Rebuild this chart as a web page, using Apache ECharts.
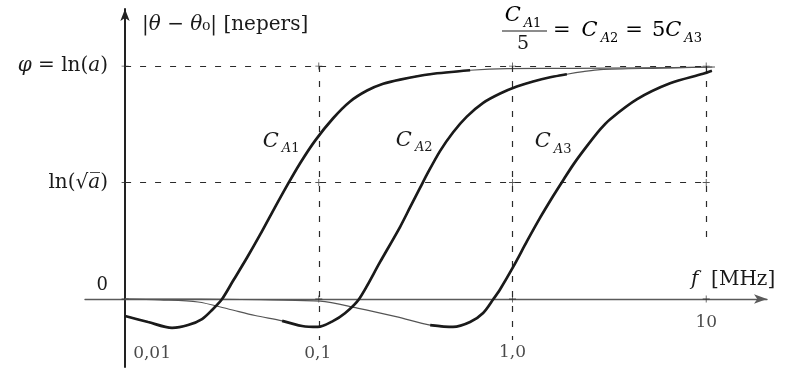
<!DOCTYPE html>
<html>
<head>
<meta charset="utf-8">
<title>|θ − θ0| versus frequency</title>
<script src="https://cdn.jsdelivr.net/npm/echarts@6/dist/echarts.min.js"></script>
<style>
  html, body { margin: 0; padding: 0; background: #fff; }
  #chart { width: 794px; height: 373px; }
</style>
</head>
<body>
<div id="chart"></div>
<script>
// Frequency in MHz; phase deviation |θ − θ0| in units of φ = ln(a)
const freqA1 = [0.01, 0.01315, 0.01748, 0.02115, 0.02497, 0.02813, 0.03168, 0.0361, 0.04265, 0.04978, 0.05741, 0.06946, 0.0801, 0.09574, 0.1186, 0.1451, 0.1776, 0.2149, 0.263, 0.3756, 0.6044, 0.94, 2.06, 4.56, 11.1];
const phaseA1 = [-0.073, -0.099, -0.124, -0.112, -0.086, -0.047, 0, 0.078, 0.178, 0.276, 0.371, 0.495, 0.583, 0.680, 0.776, 0.848, 0.895, 0.924, 0.942, 0.965, 0.982, 0.989, 0.990, 0.992, 0.996];

const freqA2 = [0.01, 0.0152, 0.0238, 0.0341, 0.0469, 0.0647, 0.082, 0.099, 0.117, 0.137, 0.1615, 0.2073, 0.263, 0.2962, 0.3337, 0.3613, 0.4232, 0.4939, 0.581, 0.7055, 0.8636, 1.053, 1.278, 1.565, 1.909, 2.317, 2.836, 5.785, 10.74];
const phaseA2 = [0, -0.004, -0.013, -0.043, -0.071, -0.094, -0.116, -0.120, -0.097, -0.060, 0, 0.159, 0.310, 0.394, 0.478, 0.534, 0.636, 0.716, 0.783, 0.842, 0.882, 0.912, 0.934, 0.952, 0.965, 0.976, 0.985, 0.991, 0.996];

const freqA3 = [0.01, 0.0244, 0.0561, 0.1016, 0.158, 0.254, 0.376, 0.493, 0.604, 0.7055, 0.7974, 0.8636, 1.0116, 1.1863, 1.389, 1.6275, 1.8334, 2.064, 2.421, 2.836, 3.194, 4.40, 6.51, 9.64, 10.7];
const phaseA3 = [0, 0, -0.004, -0.009, -0.039, -0.077, -0.112, -0.120, -0.099, -0.060, 0, 0.042, 0.140, 0.247, 0.349, 0.444, 0.512, 0.578, 0.656, 0.728, 0.772, 0.858, 0.926, 0.967, 0.980];

const curveNames = ['A1', 'A2', 'A3'];
const decadeTicks = [0.01, 0.1, 1, 10];
const decadeLabels = ['0,01', '0,1', '1,0', '10'];
const levelTicks = [0, 0.5, 1];

// Reference levels: ln(√a) and φ = ln(a), and the decade guides
const guideLevels = [0.5, 1];
const guideFreqs = [0.1, 1, 10];
const guideFreqBottom = [-0.176, -0.176, 0.24];

// Frequency span over which each curve is drawn with the heavy pen
const heavySpan = [[0.01, 0.61], [0.06, 2.0], [0.37, 11]];

const SERIF = 'DejaVu Serif';
const INK = '#1a1a1a';

const curves = [
  { name: curveNames[0], f: freqA1, v: phaseA1 },
  { name: curveNames[1], f: freqA2, v: phaseA2 },
  { name: curveNames[2], f: freqA3, v: phaseA3 }
];

const subRich = {
  c: { fontFamily: SERIF, fontStyle: 'italic', fontSize: 21, color: INK },
  s: { fontFamily: SERIF, fontStyle: 'italic', fontSize: 13, color: INK, padding: [15, 0, 0, 3] },
  n: { fontFamily: SERIF, fontSize: 13, color: INK, padding: [15, 0, 0, 0] },
  r: { fontFamily: SERIF, fontSize: 21, color: INK },
  p: { fontFamily: SERIF, fontSize: 21, color: INK, padding: [0, 11, 0, 0] },
  q: { fontFamily: SERIF, fontSize: 21, color: INK, padding: [0, 9, 0, 7] }
};
function cLabel(name) {
  return '{c|C}{s|' + name.charAt(0) + '}{n|' + name.slice(1) + '}';
}

const curveLabelAt = [[0.0639, 0.678], [0.311, 0.682], [1.62, 0.674]];
// label offsets of the decade numbers from their tick on the f axis
const tickLabelShift = [[27, 55], [-1, 55], [0, 54], [0, 24]];

const series = [];

// dashed guide lines
const guideLines = [];
guideLevels.forEach(function (lv) {
  guideLines.push([{ coord: [decadeTicks[0], lv] }, { coord: [decadeTicks[3], lv] }]);
});
guideFreqs.forEach(function (f, i) {
  guideLines.push([{ coord: [f, 1] }, { coord: [f, guideFreqBottom[i]] }]);
});
series.push({
  type: 'line', data: [], silent: true,
  markLine: {
    silent: true, symbol: ['none', 'none'], animation: false,
    label: { show: false },
    lineStyle: { color: '#2a2a2a', width: 1.2, type: [6, 9] },
    data: guideLines
  }
});

// small crosses where the guides meet
const crossPts = [];
decadeTicks.forEach(function (f) {
  levelTicks.forEach(function (lv) { crossPts.push([f, lv]); });
});
series.push({
  type: 'scatter', data: crossPts, silent: true, z: 3,
  symbol: 'path://M0,4.4H10V5.6H0Z M4.4,0H5.6V10H4.4Z', symbolSize: 7,
  itemStyle: { color: '#2a2a2a' }
});

// decade numbers along the f axis
series.push({
  type: 'scatter', silent: true, z: 6, symbolSize: 0,
  data: decadeTicks.map(function (f, i) {
    return {
      value: [f, 0],
      label: { show: true, position: 'inside', formatter: decadeLabels[i], offset: tickLabelShift[i] }
    };
  }),
  label: { fontFamily: SERIF, fontSize: 17, color: INK }
});

// curves: thin pen over the full range, heavy pen where the trace is inked
curves.forEach(function (c, k) {
  const pts = c.f.map(function (f, i) { return [f, c.v[i]]; });
  const heavy = pts.filter(function (p) { return p[0] >= heavySpan[k][0] && p[0] <= heavySpan[k][1]; });
  series.push({
    type: 'line', name: 'C' + c.name + ' thin', data: pts, smooth: 0.3, symbol: 'none', silent: true, z: 4,
    lineStyle: { color: '#555', width: 1.2 },
    markPoint: {
      symbol: 'circle', symbolSize: 0, silent: true,
      label: { show: true, position: 'inside', formatter: cLabel(c.name), rich: subRich },
      data: [{ coord: curveLabelAt[k] }]
    }
  });
  series.push({
    type: 'line', name: 'C' + c.name, data: heavy, smooth: 0.3, symbol: 'none', silent: true, z: 5,
    lineStyle: { color: INK, width: 2.7 }
  });
});

const chart = echarts.init(document.getElementById('chart'), null, { renderer: 'canvas' });
chart.setOption({
  animation: false,
  backgroundColor: '#ffffff',
  grid: { left: 85, right: 27, top: 9, bottom: 6, containLabel: false, outerBoundsMode: 'none' },
  xAxis: {
    type: 'log', logBase: 10, min: 0.00621, max: 20.6,
    axisLine: { onZero: true, symbol: ['none', 'arrow'], symbolSize: [7, 13], lineStyle: { color: '#5a5a5a', width: 1.4 } },
    axisTick: { show: false }, splitLine: { show: false }, minorTick: { show: false },
    axisLabel: { show: false }
  },
  yAxis: {
    type: 'value', min: -0.292, max: 1.245, offset: -40,
    axisLine: { show: true, onZero: false, symbol: ['none', 'arrow'], symbolSize: [7, 12], lineStyle: { color: '#222', width: 2 } },
    axisTick: { show: false }, splitLine: { show: false },
    axisLabel: {
      customValues: levelTicks,
      margin: 17,
      formatter: function (v) {
        if (v === 1) return '{i|φ}{r| = ln(}{i|a}{r|)}';
        if (v === 0.5) return '{r|ln(√}{i|a\u0305}{r|)}';
        return '{z|0}';
      },
      rich: {
        i: { fontFamily: SERIF, fontStyle: 'italic', fontSize: 20, color: INK },
        r: { fontFamily: SERIF, fontSize: 20, color: INK },
        z: { fontFamily: SERIF, fontSize: 18, color: INK, padding: [0, 0, 28, 0] }
      }
    }
  },
  graphic: [
    {
      type: 'text', x: 142, y: 25, silent: true,
      style: {
        text: '{r||}{i|θ}{r| − }{i|θ}{r|₀| [nepers]}',
        align: 'left', verticalAlign: 'middle',
        rich: {
          i: { fontFamily: SERIF, fontStyle: 'italic', fontSize: 20, fill: INK },
          r: { fontFamily: SERIF, fontSize: 20, fill: INK }
        }
      }
    },
    {
      type: 'text', x: 523, y: 16, silent: true,
      style: { text: cLabel(curveNames[0]), align: 'center', verticalAlign: 'middle', rich: subRich }
    },
    {
      type: 'line', silent: true,
      shape: { x1: 502, y1: 31, x2: 547, y2: 31 },
      style: { stroke: INK, lineWidth: 1.2 }
    },
    {
      type: 'text', x: 523, y: 44, silent: true,
      style: { text: '5', align: 'center', verticalAlign: 'middle', font: '19px "DejaVu Serif"', fill: INK }
    },
    {
      type: 'text', x: 553, y: 31, silent: true,
      style: {
        text: '{p|=}' + cLabel(curveNames[1]) + '{q|=}{r|5}' + cLabel(curveNames[2]),
        align: 'left', verticalAlign: 'middle', rich: subRich
      }
    },
    {
      type: 'text', x: 691, y: 280, silent: true,
      style: {
        text: '{i|f}{r|  [MHz]}',
        align: 'left', verticalAlign: 'middle',
        rich: {
          i: { fontFamily: SERIF, fontStyle: 'italic', fontSize: 20, fill: INK },
          r: { fontFamily: SERIF, fontSize: 20, fill: INK }
        }
      }
    }
  ],
  series: series
});
</script>
</body>
</html>
